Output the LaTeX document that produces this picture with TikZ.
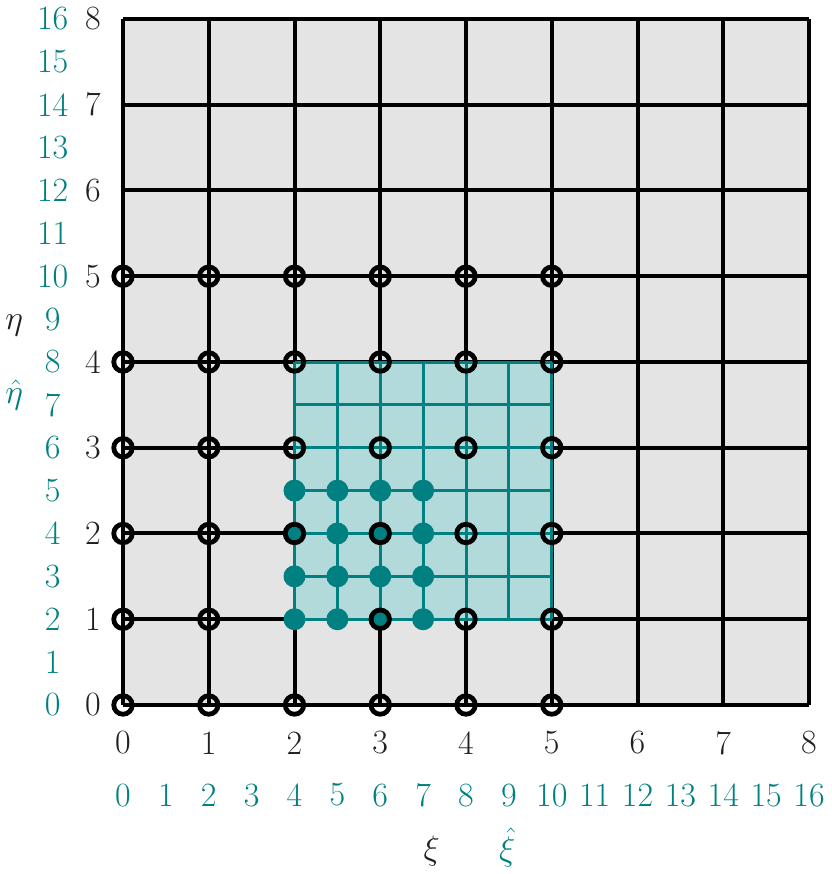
\RequirePackage{fix-cm}
\documentclass[tikz,border=0pt]{standalone}
\usepackage{xcolor}
\definecolor{tealc}{RGB}{0,128,128}
\definecolor{tealfill}{RGB}{179,218,218}
\definecolor{gridgray}{RGB}{228,228,228}
\definecolor{txt}{RGB}{35,31,32}
\begin{document}
\begin{tikzpicture}[x=85.75pt,y=85.75pt,
  blackgrid/.style={line width=4pt,draw=black},
  tealgrid/.style={line width=3pt,draw=tealc},
  opencirc/.style={circle,draw=black,line width=4.8pt,minimum size=18.5pt,inner sep=0pt},
  tealdot/.style={circle,fill=tealc,minimum size=22pt,inner sep=0pt},
  blab/.style={text=txt,font=\fontsize{34}{40}\selectfont,inner sep=0pt},
  tlab/.style={text=tealc,font=\fontsize{34}{40}\selectfont,inner sep=0pt}]
\useasboundingbox (-123/85.75,-169/85.75) rectangle (708/85.75,705/85.75);
% background grid
\fill[gridgray] (0,0) rectangle (8,8);
\draw[blackgrid] (0,0) grid[step=1] (8,8);
% teal region
\fill[tealfill] (2,1) rectangle (5,4);
\draw[tealgrid] (2,1) grid[step=0.5] (5,4);
% teal dots
\foreach \i in {0,...,3}{
  \foreach \j in {0,...,3}{
    \node[tealdot] (d\i\j) at ({2+0.5*\i},{1+0.5*\j}) {};
  }
}
% black open circles
\foreach \i in {0,...,5}{
  \foreach \j in {0,...,5}{
    \ifnum\i=2 \ifnum\j=1 \else
      \node[opencirc] (c\i\j) at (\i,\j) {};
    \fi\else
      \node[opencirc] (c\i\j) at (\i,\j) {};
    \fi
  }
}
% axis labels: black
\foreach \k in {0,...,8}{
  \node[blab] (bx\k) at (\k,-0.443) {\k};
  \node[blab] (by\k) at (-0.35,\k) {\k};
}
% teal labels
\foreach \k in {0,...,16}{
  \node[tlab] (tx\k) at ({\k/2},-1.05) {\k};
  \node[tlab] (ty\k) at (-0.82,{\k/2}) {\k};
}
% axis names
\node[blab] (xi) at (3.60,-1.70) {$\xi$};
\node[tlab] (xihat) at (4.48,-1.66) {$\hat{\xi}$};
\node[blab] (eta) at (-1.27,4.43) {$\eta$};
\node[tlab] (etahat) at (-1.27,3.62) {$\hat{\eta}$};
\end{tikzpicture}
\end{document}
